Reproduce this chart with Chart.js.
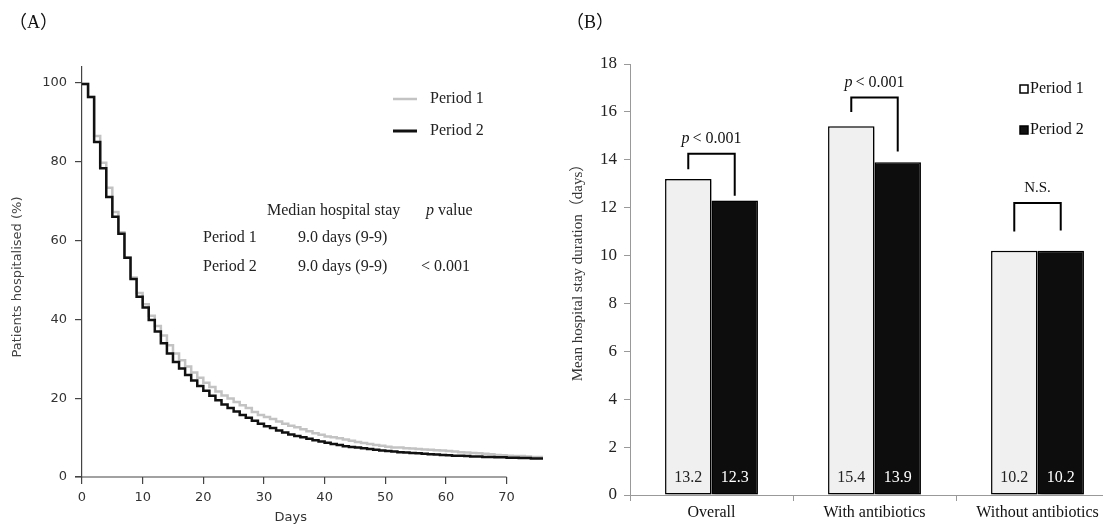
<!DOCTYPE html>
<html>
<head>
<meta charset="utf-8">
<script src="https://cdn.jsdelivr.net/npm/chart.js@4.4.1/dist/chart.umd.min.js"></script>
<style>
    html, body { margin: 0; padding: 0; background: #fff; overflow: hidden; width: 1103px; height: 525px; }
    #panelA { position: absolute; left: 0; top: 0; width: 560px; height: 525px; }
    #panelB { position: absolute; left: 540px; top: 0; width: 600px; height: 525px; }
</style>
</head>
<body>
<div id="panelA"><canvas id="kmChart"></canvas></div>
<div id="panelB"><canvas id="barChart"></canvas></div>
<script>
// ============================================
// DATA
// ============================================

// (A) proportion still hospitalised, by day since admission
const days = [
    0, 1, 2, 3, 4, 5, 6, 7, 8, 9, 10, 11, 12, 13, 14, 15, 16, 17, 18, 19,
    20, 21, 22, 23, 24, 25, 26, 27, 28, 29, 30, 31, 32, 33, 34, 35, 36, 37, 38, 39,
    40, 41, 42, 43, 44, 45, 46, 47, 48, 49, 50, 51, 52, 53, 54, 55, 56, 57, 58, 59,
    60, 61, 62, 63, 64, 65, 66, 67, 68, 69, 70, 71, 72, 73, 74, 75, 76,
];
const period1Pct = [
    100, 99.7, 96.4, 86.5, 79.7, 73.4, 67.2, 62.1, 55.7, 50.6, 46.7, 43.8, 40.9, 38.3, 35.9, 33.4, 31.3, 29.6, 28.0, 26.5,
    25.2, 23.9, 22.8, 21.7, 20.7, 19.9, 19.0, 18.2, 17.5, 16.5, 15.7, 15.2, 14.7, 14.1, 13.5, 13.0, 12.6, 12.1, 11.6, 11.1,
    10.7, 10.3, 10.1, 9.8, 9.5, 9.2, 8.9, 8.6, 8.4, 8.1, 7.9, 7.7, 7.5, 7.5, 7.3, 7.2, 7.1, 7.0, 6.9, 6.8,
    6.7, 6.6, 6.5, 6.3, 6.2, 6.1, 6.0, 5.9, 5.8, 5.6, 5.5, 5.4, 5.3, 5.3, 5.2, 5.1, 5.1,
];
const period2Pct = [
    100, 99.7, 96.4, 85.0, 78.3, 71.0, 66.0, 61.7, 55.6, 50.2, 45.7, 43.0, 39.8, 36.9, 33.9, 31.3, 29.2, 27.5, 25.9, 24.5,
    23.1, 21.9, 20.6, 19.5, 18.4, 17.5, 16.6, 15.7, 15.0, 14.3, 13.5, 12.9, 12.4, 11.8, 11.3, 10.8, 10.4, 10.1, 9.7, 9.3,
    9.0, 8.7, 8.4, 8.1, 7.8, 7.6, 7.5, 7.3, 7.1, 6.9, 6.7, 6.6, 6.5, 6.3, 6.2, 6.1, 6.0, 5.9, 5.8, 5.7,
    5.6, 5.5, 5.4, 5.4, 5.3, 5.2, 5.2, 5.1, 5.1, 5.0, 5.0, 4.9, 4.9, 4.8, 4.8, 4.7, 4.7,
];
const dayTicks = [0, 10, 20, 30, 40, 50, 60, 70];
const pctTicks = [0, 20, 40, 60, 80, 100];

const medianRows = ["Period 1", "Period 2"];
const medianStay = ["9.0 days (9-9)", "9.0 days (9-9)"];
const medianPValue = ["", "< 0.001"];

// (B) mean hospital stay duration
const groups = ["Overall", "With antibiotics", "Without antibiotics"];
const period1Mean = [13.2, 15.4, 10.2];
const period2Mean = [12.3, 13.9, 10.2];
const sigLabels = ["p < 0.001", "p < 0.001", "N.S."];
const bracketTop = [14.25, 16.6, 12.2];
const bracketLeftFoot = [13.6, 16.0, 11.0];
const bracketRightFoot = [12.5, 14.35, 11.05];

// ============================================
// HELPERS
// ============================================

const SANS = '"DejaVu Sans", sans-serif';
const SERIF = '"Liberation Serif", "Noto Sans CJK JP", serif';

const toPoints = (values) => days.map((d, i) => ({ x: d, y: values[i] }));

// draws "p < 0.001" with an italic p
function drawSigText(ctx, text, cx, y) {
    ctx.textBaseline = "alphabetic";
    if (text.startsWith("p ")) {
        const rest = text.slice(2);
        ctx.font = "italic 16px " + SERIF;
        const wp = ctx.measureText("p").width + 3;
        ctx.font = "16px " + SERIF;
        const wr = ctx.measureText(rest).width;
        const x = cx - (wp + wr) / 2;
        ctx.textAlign = "left";
        ctx.font = "italic 16px " + SERIF;
        ctx.fillText("p", x, y);
        ctx.font = "16px " + SERIF;
        ctx.fillText(rest, x + wp, y);
    } else {
        ctx.font = "15px " + SERIF;
        ctx.textAlign = "center";
        ctx.fillText(text, cx, y);
    }
}

function drawVerticalTitle(ctx, text, font, color, x, y) {
    ctx.save();
    ctx.translate(x, y);
    ctx.rotate(-Math.PI / 2);
    ctx.font = font;
    ctx.fillStyle = color;
    ctx.textAlign = "center";
    ctx.textBaseline = "middle";
    ctx.fillText(text, 0, 0);
    ctx.restore();
}

// ============================================
// (A) SURVIVAL-STYLE STEP CHART
// ============================================

const kmAnnotations = {
    id: "kmAnnotations",
    afterDraw(chart) {
        const { ctx, chartArea } = chart;
        const x = chart.scales.x;
        const xEnd = x.getPixelForValue(dayTicks[dayTicks.length - 1]);
        ctx.save();

        // x axis line only up to the last tick
        ctx.strokeStyle = "#444";
        ctx.lineWidth = 1.2;
        ctx.beginPath();
        ctx.moveTo(chartArea.left - 7, chartArea.bottom);
        ctx.lineTo(xEnd, chartArea.bottom);
        ctx.stroke();

        // axis titles
        ctx.fillStyle = "#333";
        ctx.font = "13px " + SANS;
        ctx.textAlign = "center";
        ctx.textBaseline = "middle";
        ctx.fillText("Days", (chartArea.left - 7 + xEnd) / 2, 518);
        drawVerticalTitle(ctx, "Patients hospitalised (%)", "13px " + SANS, "#444", 18, 277);

        // panel label
        ctx.fillStyle = "#111";
        ctx.font = "18px " + SERIF;
        ctx.textAlign = "left";
        ctx.fillText("（A）", 9, 23);

        // legend
        const legend = [
            { label: "Period 1", color: "#c3c3c3", width: 2.5, y: 99 },
            { label: "Period 2", color: "#111", width: 3, y: 131 },
        ];
        legend.forEach((item) => {
            ctx.strokeStyle = item.color;
            ctx.lineWidth = item.width;
            ctx.beginPath();
            ctx.moveTo(393, item.y);
            ctx.lineTo(417, item.y);
            ctx.stroke();
            ctx.fillStyle = "#222";
            ctx.font = "16px " + SERIF;
            ctx.fillText(item.label, 430, item.y);
        });

        // median stay table
        ctx.fillStyle = "#222";
        ctx.font = "16px " + SERIF;
        ctx.fillText("Median hospital stay", 267, 211);
        ctx.font = "italic 16px " + SERIF;
        ctx.fillText("p", 426, 211);
        const pw = ctx.measureText("p").width;
        ctx.font = "16px " + SERIF;
        ctx.fillText("value", 426 + pw + 4, 211);
        medianRows.forEach((row, i) => {
            const y = 238 + i * 29;
            ctx.fillText(row, 203, y);
            ctx.fillText(medianStay[i], 298, y);
            if (medianPValue[i]) ctx.fillText(medianPValue[i], 421, y);
        });
        ctx.restore();
    },
};

new Chart(document.getElementById("kmChart"), {
    type: "line",
    data: {
        datasets: [
            {
                label: "Period 1",
                data: toPoints(period1Pct),
                borderColor: "#c3c3c3",
                borderWidth: 2.5,
                stepped: "after",
                pointRadius: 0,
                order: 1,
            },
            {
                label: "Period 2",
                data: toPoints(period2Pct),
                borderColor: "#111",
                borderWidth: 2.5,
                stepped: "after",
                pointRadius: 0,
                order: 0,
            },
        ],
    },
    options: {
        responsive: true,
        maintainAspectRatio: false,
        animation: false,
        layout: { padding: { left: 0, top: 67, right: 17, bottom: 0 } },
        plugins: { legend: { display: false }, tooltip: { enabled: false } },
        scales: {
            x: {
                type: "linear",
                min: 0,
                max: 76,
                afterFit: (s) => { s.height = 48; },
                afterBuildTicks: (s) => { s.ticks = dayTicks.map((v) => ({ value: v })); },
                grid: { display: true, drawOnChartArea: false, tickLength: 7, color: "#444", lineWidth: 1.2 },
                border: { display: false },
                ticks: { font: { family: SANS, size: 13 }, color: "#333", padding: 6, maxRotation: 0 },
            },
            y: {
                min: 0,
                max: 104,
                afterFit: (s) => { s.width = 82; },
                afterBuildTicks: (s) => { s.ticks = pctTicks.map((v) => ({ value: v })); },
                grid: { display: true, drawOnChartArea: false, tickLength: 7, color: "#444", lineWidth: 1.2 },
                border: { display: true, color: "#444", width: 1.2 },
                ticks: { font: { family: SANS, size: 13 }, color: "#333", padding: 8 },
            },
        },
    },
    plugins: [kmAnnotations],
});

// ============================================
// (B) MEAN STAY BAR CHART
// ============================================

const barShadow = {
    id: "barShadow",
    beforeDatasetsDraw(chart) {
        const { ctx } = chart;
        ctx.save();
        ctx.shadowColor = "rgba(0, 0, 0, 0.35)";
        ctx.shadowOffsetX = 3;
        ctx.shadowOffsetY = 1;
        ctx.shadowBlur = 3;
    },
    afterDatasetsDraw(chart) {
        chart.ctx.restore();
    },
};

const barAnnotations = {
    id: "barAnnotations",
    afterDraw(chart) {
        const { ctx, chartArea } = chart;
        const y = chart.scales.y;
        const m1 = chart.getDatasetMeta(0);
        const m2 = chart.getDatasetMeta(1);
        ctx.save();

        // values at the foot of each bar
        ctx.font = "16px " + SERIF;
        ctx.textAlign = "center";
        ctx.textBaseline = "middle";
        const labelY = y.getPixelForValue(0) - 17;
        m1.data.forEach((bar, i) => {
            ctx.fillStyle = "#222";
            ctx.fillText(period1Mean[i].toFixed(1), bar.x, labelY);
        });
        m2.data.forEach((bar, i) => {
            ctx.fillStyle = "#fff";
            ctx.fillText(period2Mean[i].toFixed(1), bar.x, labelY);
        });

        // significance brackets
        groups.forEach((g, i) => {
            const x1 = m1.data[i].x;
            const x2 = m2.data[i].x;
            const yt = y.getPixelForValue(bracketTop[i]);
            ctx.strokeStyle = "#000";
            ctx.lineWidth = 2;
            ctx.beginPath();
            ctx.moveTo(x1, y.getPixelForValue(bracketLeftFoot[i]));
            ctx.lineTo(x1, yt);
            ctx.lineTo(x2, yt);
            ctx.lineTo(x2, y.getPixelForValue(bracketRightFoot[i]));
            ctx.stroke();
            ctx.fillStyle = "#111";
            drawSigText(ctx, sigLabels[i], (x1 + x2) / 2, yt - 11);
        });

        // legend
        ctx.textAlign = "left";
        ctx.textBaseline = "middle";
        ctx.font = "16px " + SERIF;
        [
            { label: "Period 1", fill: "#fff", y: 89 },
            { label: "Period 2", fill: "#111", y: 130 },
        ].forEach((item) => {
            ctx.fillStyle = item.fill;
            ctx.fillRect(480, item.y - 4, 8, 8);
            ctx.strokeStyle = "#000";
            ctx.lineWidth = 1.5;
            ctx.strokeRect(480, item.y - 4, 8, 8);
            ctx.fillStyle = "#111";
            ctx.fillText(item.label, 490, item.y);
        });

        // axis title
        drawVerticalTitle(ctx, "Mean hospital stay duration（days）", "15px " + SERIF, "#333", 38, 269);

        // panel label
        ctx.fillStyle = "#111";
        ctx.font = "18px " + SERIF;
        ctx.textAlign = "left";
        ctx.textBaseline = "middle";
        ctx.fillText("（B）", 26, 23);
        ctx.restore();
    },
};

new Chart(document.getElementById("barChart"), {
    type: "bar",
    data: {
        labels: groups,
        datasets: [
            {
                label: "Period 1",
                data: period1Mean,
                backgroundColor: "#f0f0f0",
                borderColor: "#000",
                borderWidth: 1.5,
                borderSkipped: false,
            },
            {
                label: "Period 2",
                data: period2Mean,
                backgroundColor: "#0d0d0d",
                borderColor: "#000",
                borderWidth: 1.5,
                borderSkipped: false,
            },
        ],
    },
    options: {
        responsive: true,
        maintainAspectRatio: false,
        animation: false,
        layout: { padding: { left: 0, top: 64, right: 21, bottom: 0 } },
        datasets: { bar: { categoryPercentage: 0.57, barPercentage: 1.0 } },
        plugins: { legend: { display: false }, tooltip: { enabled: false } },
        scales: {
            x: {
                afterFit: (s) => { s.height = 30; },
                grid: { display: true, drawOnChartArea: false, tickLength: 6, color: "#999", offset: true },
                border: { color: "#999" },
                ticks: { font: { family: SERIF, size: 16 }, color: "#111", padding: 2, autoSkip: false, maxRotation: 0 },
            },
            y: {
                min: 0,
                max: 18,
                afterFit: (s) => { s.width = 90; },
                grid: { display: true, drawOnChartArea: false, tickLength: 6, color: "#999" },
                border: { color: "#999" },
                ticks: { stepSize: 2, font: { family: SERIF, size: 17 }, color: "#222", padding: 7 },
            },
        },
    },
    plugins: [barShadow, barAnnotations],
});
</script>
</body>
</html>
